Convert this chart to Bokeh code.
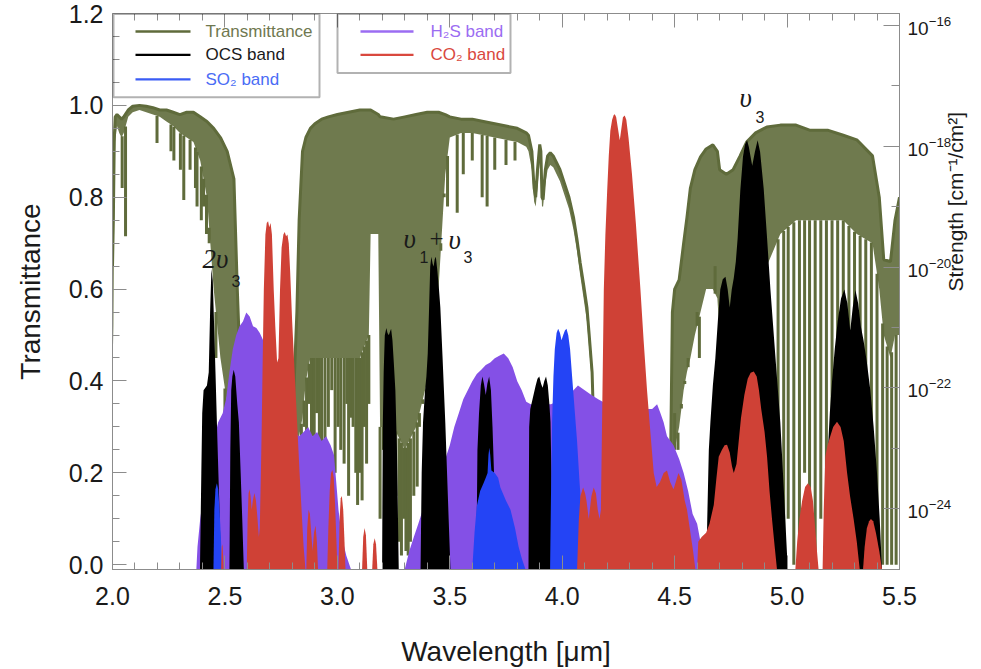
import math
import numpy as np
from bokeh.plotting import figure
from bokeh.models import (Range1d, LinearAxis, LogAxis, LogScale, FixedTicker,
                          PrintfTickFormatter, CustomJSTickFormatter, Label, BoxAnnotation)
from bokeh.embed import file_html
from bokeh.resources import INLINE

# ------------------------------------------------------------------ data
x_ticks = [2.0, 2.5, 3.0, 3.5, 4.0, 4.5, 5.0, 5.5]
x_minor = [round(2.0 + 0.1 * i, 2) for i in range(36)]
y_ticks = [0.0, 0.2, 0.4, 0.6, 0.8, 1.0, 1.2]
y_minor = [round(0.05 * i, 2) for i in range(25)]
s_ticks = [1e-16, 1e-18, 1e-20, 1e-22, 1e-24]
s_minor = [1e-17, 1e-19, 1e-21, 1e-23, 1e-25]

# Transmittance: upper envelope and lower edge of the dense line forest
trans_wl = [2.000, 2.004, 2.008, 2.012, 2.02, 2.03, 2.04, 2.05, 2.07, 2.09, 2.12, 2.15, 2.18,
            2.21, 2.24, 2.27, 2.3, 2.33, 2.36, 2.39, 2.42, 2.45, 2.48, 2.51, 2.54, 2.555, 2.57,
            2.6, 2.8, 2.82, 2.83, 2.845, 2.86, 2.88, 2.9, 2.93, 2.96, 3.0, 3.05, 3.1, 3.14,
            3.148, 3.182, 3.19, 3.25, 3.3, 3.35, 3.4, 3.45, 3.48, 3.5, 3.55, 3.6, 3.65, 3.7,
            3.75, 3.8, 3.84, 3.85, 3.865, 3.875, 3.882, 3.89, 3.9, 3.905, 3.91, 3.915, 3.925,
            3.935, 3.947, 3.96, 3.975, 3.99, 4.01, 4.03, 4.05, 4.065, 4.08, 4.095, 4.11, 4.12,
            4.133, 4.14, 4.15, 4.16, 4.17, 4.47, 4.48, 4.49, 4.5, 4.52, 4.54, 4.555, 4.57, 4.59,
            4.615, 4.64, 4.67, 4.69, 4.7, 4.73, 4.76, 4.79, 4.82, 4.86, 4.91, 4.97, 5.04, 5.1,
            5.18, 5.25, 5.31, 5.38, 5.41, 5.43, 5.46, 5.48, 5.5]
trans_top = [0.65, 0.76, 0.93, 0.975, 0.98, 0.975, 0.97, 0.975, 0.99, 0.998, 1.0, 0.998, 0.995,
             0.99, 0.99, 0.985, 0.98, 0.985, 0.985, 0.975, 0.965, 0.95, 0.93, 0.9, 0.84, 0.6, 0.4,
             0.3, 0.3, 0.55, 0.75, 0.9, 0.93, 0.95, 0.96, 0.97, 0.975, 0.98, 0.985, 0.99, 0.99,
             0.99, 0.98, 0.975, 0.97, 0.975, 0.98, 0.985, 0.985, 0.98, 0.975, 0.97, 0.97, 0.965, 0.96,
             0.955, 0.95, 0.94, 0.935, 0.9, 0.82, 0.8, 0.86, 0.915, 0.9, 0.8, 0.795, 0.86,
             0.89, 0.897, 0.89, 0.875, 0.86, 0.83, 0.8, 0.757, 0.71, 0.657, 0.61, 0.56, 0.5,
             0.418, 0.3, 0.15, 0.03, 0.0, 0.0, 0.15, 0.55, 0.6, 0.62, 0.7, 0.757, 0.82, 0.86,
             0.888, 0.905, 0.914, 0.9, 0.86, 0.85, 0.86, 0.889, 0.92, 0.94, 0.953, 0.957, 0.957, 0.946,
             0.946, 0.935, 0.925, 0.89, 0.8, 0.664, 0.66, 0.75, 0.8]
trans_low = [0.42, 0.52, 0.8, 0.92, 0.955, 0.94, 0.93, 0.94, 0.975, 0.985, 0.99, 0.985, 0.98,
             0.975, 0.965, 0.955, 0.94, 0.93, 0.92, 0.88, 0.8, 0.6, 0.45, 0.35, 0.25, 0.22, 0.2,
             0.15, 0.15, 0.2, 0.28, 0.32, 0.4, 0.45, 0.45, 0.45, 0.45, 0.45, 0.45, 0.45, 0.5,
             0.72, 0.72, 0.3, 0.3, 0.25, 0.3, 0.4, 0.6, 0.85, 0.93, 0.94, 0.94, 0.935, 0.93,
             0.925, 0.92, 0.91, 0.9, 0.86, 0.79, 0.78, 0.82, 0.88, 0.86, 0.78, 0.78, 0.83,
             0.86, 0.87, 0.865, 0.85, 0.835, 0.805, 0.775, 0.73, 0.685, 0.63, 0.58, 0.53, 0.47,
             0.39, 0.27, 0.12, 0.0, 0.0, 0.0, 0.0, 0.2, 0.25, 0.3, 0.38, 0.42, 0.45, 0.5,
             0.55, 0.6, 0.6, 0.58, 0.5, 0.4, 0.4, 0.4, 0.45, 0.55, 0.65, 0.72, 0.75, 0.75,
             0.75, 0.75, 0.72, 0.7, 0.6, 0.5, 0.45, 0.5, 0.5]
# individual deep absorption lines (wavelength, minimum transmittance)
line_wl = [2.043, 2.058, 2.198, 2.26, 2.273, 2.302, 2.317, 2.345, 2.369, 2.376, 2.395, 2.405,
           2.418, 2.43, 2.46, 2.5, 2.52, 2.55, 2.84, 2.852, 2.863, 2.875, 2.885, 2.897, 2.908,
           2.92, 2.93, 2.945, 2.96, 2.975, 2.99, 3.003, 3.015, 3.03, 3.042, 3.05, 3.062, 3.07,
           3.082, 3.09, 3.1, 3.11, 3.12, 3.13, 3.14, 3.19, 3.205, 3.215, 3.23, 3.245, 3.26,
           3.275, 3.285, 3.295, 3.305, 3.315, 3.325, 3.34, 3.355, 3.365, 3.38, 3.4, 3.42, 3.44,
           3.46, 3.475, 3.49, 3.533, 3.56, 3.6, 3.644, 3.666, 3.7, 3.75, 3.79,
           4.485, 4.5, 4.515, 4.53, 4.545, 4.56, 4.6, 4.61, 4.62, 4.64, 4.66, 4.68,
           4.96, 4.985, 5.005, 5.03, 5.055, 5.078, 5.1, 5.125, 5.15, 5.175, 5.2, 5.225, 5.25,
           5.275, 5.3, 5.325, 5.35, 5.375, 5.4, 5.425, 5.445, 5.465, 5.485]
line_min = [0.82, 0.715, 0.918, 0.9, 0.88, 0.86, 0.794, 0.86, 0.82, 0.78, 0.75, 0.78,
            0.72, 0.7, 0.45, 0.3, 0.3, 0.22, 0.25, 0.3, 0.15, 0.35, 0.28, 0.2, 0.33,
            0.18, 0.25, 0.13, 0.3, 0.38, 0.2, 0.3, 0.25, 0.22, 0.35, 0.15, 0.32, 0.3,
            0.2, 0.13, 0.2, 0.14, 0.3, 0.22, 0.35, 0.1, 0.25, 0.2, 0.15, 0.3, 0.15,
            0.05, 0.02, 0.1, 0.03, 0.02, 0.05, 0.15, 0.17, 0.3, 0.35, 0.4, 0.55, 0.6,
            0.7, 0.8, 0.78, 0.766, 0.85, 0.88, 0.8, 0.78, 0.86, 0.87, 0.88,
            0.22, 0.33, 0.25, 0.35, 0.4, 0.45, 0.55, 0.45, 0.56, 0.6, 0.6, 0.65,
            0.05, 0.0, 0.1, 0.0, 0.05, 0.2, 0.0, 0.0, 0.1, 0.0, 0.0, 0.05, 0.15,
            0.0, 0.0, 0.1, 0.0, 0.0, 0.05, 0.0, 0.0, 0.0, 0.0]

# Band line strengths: envelope, log10 of strength [cm^-1/cm^2]
ocs1_wl = [2.389, 2.395, 2.399, 2.405, 2.42, 2.428, 2.434, 2.44, 2.446, 2.452, 2.458, 2.466, 2.474, 2.483]
ocs1_ls = [-25.0, -23.41, -22.42, -22.04, -21.96, -21.74, -20.75, -20.03, -20.22, -20.98, -21.74, -22.80, -23.79, -25.0]
ocs2_wl = [2.52, 2.524, 2.528, 2.533, 2.539, 2.546, 2.555, 2.562, 2.57, 2.577, 2.584]
ocs2_ls = [-25.0, -23.03, -22.04, -21.81, -21.70, -21.81, -22.27, -22.57, -23.41, -24.17, -25.0]
ocs3_wl = [3.199, 3.202, 3.206, 3.211, 3.218, 3.223, 3.229, 3.234, 3.239, 3.245, 3.251, 3.258, 3.265, 3.273]
ocs3_ls = [-25.0, -22.65, -21.74, -21.13, -21.01, -21.09, -21.13, -21.07, -21.02, -21.21, -21.58, -22.04, -23.03, -25.0]
ocs4_wl = [3.37, 3.375, 3.381, 3.39, 3.396, 3.402, 3.408, 3.413, 3.418, 3.424, 3.428, 3.433, 3.438, 3.445,
           3.452, 3.458, 3.468, 3.48, 3.49, 3.495, 3.503]
ocs4_ls = [-25.0, -23.41, -22.57, -22.04, -21.81, -21.43, -20.67, -19.99, -19.83, -19.95, -19.99, -19.87, -19.83, -20.07,
           -20.37, -20.67, -21.51, -22.57, -23.64, -24.17, -25.0]
ocs5_wl = [3.618, 3.623, 3.63, 3.638, 3.645, 3.652, 3.66, 3.667, 3.675, 3.683, 3.69, 3.698, 3.705, 3.712]
ocs5_ls = [-25.0, -23.03, -22.42, -21.96, -21.81, -21.93, -22.12, -21.93, -21.81, -22.04, -22.65, -23.56, -24.32, -25.0]
ocs6_wl = [3.85, 3.853, 3.858, 3.868, 3.882, 3.89, 3.898, 3.906, 3.913, 3.92, 3.928, 3.936, 3.943, 3.948, 3.952, 3.956]
ocs6_ls = [-25.0, -22.65, -22.35, -22.19, -21.96, -21.85, -21.81, -21.93, -22.00, -21.89, -21.81, -21.96, -22.27, -22.57, -23.41, -25.0]
ocs7_wl = [4.641, 4.645, 4.652, 4.659, 4.67, 4.681, 4.692, 4.703, 4.714, 4.726, 4.736, 4.745, 4.754, 4.763,
           4.772, 4.78, 4.792, 4.804, 4.813, 4.822, 4.83, 4.845, 4.857, 4.869, 4.88, 4.896, 4.91, 4.926,
           4.95, 4.97, 4.987, 5.003]
ocs7_ls = [-25.0, -24.17, -23.03, -22.57, -21.96, -21.51, -20.90, -20.37, -20.20, -20.16, -20.37, -20.67, -20.37, -20.18,
           -19.91, -19.53, -18.73, -18.17, -17.97, -17.90, -18.01, -18.32, -18.09, -17.90, -18.09, -18.70, -19.46, -20.37,
           -21.58, -22.57, -23.79, -25.0]
ocs8_wl = [5.165, 5.172, 5.18, 5.19, 5.2, 5.212, 5.225, 5.24, 5.255, 5.268, 5.281, 5.292, 5.304, 5.316, 5.328,
           5.34, 5.355, 5.37, 5.385, 5.4, 5.412, 5.422]
ocs8_ls = [-25.0, -23.79, -23.14, -22.42, -21.89, -21.36, -20.90, -20.52, -20.37, -20.60, -21.05, -20.67, -20.38, -20.60, -20.98,
           -21.21, -21.58, -22.03, -22.65, -23.41, -24.17, -25.0]

h2s1_wl = [2.373, 2.378, 2.39, 2.41, 2.43, 2.45, 2.47, 2.49, 2.505, 2.52, 2.535, 2.55, 2.565, 2.58, 2.595, 2.61,
           2.625, 2.64, 2.655, 2.67, 2.69, 2.71, 2.73, 2.75, 2.77, 2.79, 2.81, 2.83, 2.85, 2.87, 2.89, 2.91, 2.93,
           2.95, 2.97, 2.985, 2.995, 3.005, 3.02, 3.04, 3.06]
h2s1_ls = [-25.0, -24.63, -24.17, -23.64, -23.26, -22.88, -22.57, -22.42, -22.19, -21.74, -21.36, -21.13, -20.98, -20.90,
           -20.75, -20.82, -20.98, -21.01, -21.09, -21.21, -21.43, -21.66, -21.89, -22.12, -22.35, -22.57, -22.73, -22.80,
           -22.73, -22.65, -22.80, -22.73, -22.88, -22.80, -22.95, -23.11, -23.56, -24.02, -24.47, -24.78, -25.0]
h2s2_wl = [3.3, 3.32, 3.34, 3.36, 3.38, 3.4, 3.42, 3.44, 3.46, 3.48, 3.5, 3.52, 3.54, 3.56, 3.58, 3.6, 3.62, 3.64,
           3.66, 3.68, 3.7, 3.72, 3.74, 3.76, 3.78, 3.8, 3.82, 3.84, 3.86, 3.9, 3.95, 4.0, 4.05, 4.07, 4.1, 4.13,
           4.16, 4.2, 4.3, 4.4, 4.422, 4.437, 4.451, 4.466, 4.495, 4.52, 4.54, 4.56, 4.58, 4.6, 4.615, 4.63]
h2s2_ls = [-25.0, -24.70, -24.47, -24.25, -24.02, -23.87, -23.71, -23.56, -23.41, -23.18, -22.95, -22.65, -22.42, -22.19,
           -22.04, -21.89, -21.77, -21.70, -21.62, -21.58, -21.51, -21.47, -21.43, -21.51, -21.66, -21.89, -22.04, -22.23,
           -22.27, -22.27, -22.27, -22.19, -22.04, -21.96, -22.04, -22.12, -22.19, -22.27, -22.35, -22.35, -22.27, -22.42,
           -22.57, -22.80, -22.95, -23.18, -23.41, -23.71, -24.09, -24.25, -24.55, -25.0]

so2_1_wl = [2.449, 2.453, 2.458, 2.464, 2.47, 2.476, 2.482, 2.487]
so2_1_ls = [-25.0, -24.02, -23.68, -23.58, -23.68, -24.02, -24.47, -25.0]
so2_2_wl = [3.6, 3.61, 3.62, 3.635, 3.65, 3.66, 3.668, 3.672, 3.676, 3.68, 3.685, 3.7, 3.715, 3.725, 3.75, 3.77,
            3.79, 3.806, 3.82, 3.836]
so2_2_ls = [-25.0, -24.40, -23.96, -23.71, -23.58, -23.49, -23.41, -23.11, -22.99, -23.11, -23.37, -23.41, -23.49, -23.65,
            -23.87, -24.02, -24.32, -24.63, -24.82, -25.0]
so2_3_wl = [3.946, 3.95, 3.955, 3.961, 3.967, 3.975, 3.982, 3.99, 3.997, 4.004, 4.012, 4.019, 4.027, 4.035, 4.044,
            4.055, 4.066, 4.077, 4.088, 4.097, 4.103]
so2_3_ls = [-25.0, -23.79, -22.57, -21.81, -21.36, -21.09, -21.02, -21.09, -21.21, -21.13, -21.05, -21.02, -21.13, -21.36,
            -21.81, -22.35, -22.88, -23.56, -24.17, -24.63, -25.0]

co2_1_wl = [2.483, 2.486, 2.489, 2.492, 2.494]
co2_1_ls = [-25.0, -24.63, -24.59, -24.78, -25.0]
co2_2_wl = [2.597, 2.601, 2.605, 2.609, 2.614, 2.619, 2.624, 2.631, 2.638, 2.645, 2.651, 2.655, 2.66, 2.664, 2.668,
            2.673, 2.68, 2.686, 2.692, 2.697, 2.703, 2.709, 2.717, 2.724, 2.732, 2.738, 2.745, 2.752, 2.76, 2.766,
            2.772, 2.778, 2.784, 2.79, 2.799, 2.81, 2.821, 2.832, 2.843, 2.85, 2.858]
co2_2_ls = [-25.0, -24.17, -23.75, -23.68, -23.79, -24.02, -23.87, -23.74, -23.87, -24.17, -24.47, -24.32, -23.41, -22.57,
            -21.51, -20.37, -19.46, -19.27, -19.24, -19.34, -19.27, -19.46, -20.37, -20.98, -21.58, -21.51, -20.37,
            -19.68, -19.46, -19.42, -19.49, -19.46, -19.61, -20.07, -20.90, -21.74, -22.57, -23.41, -24.17, -24.63, -25.0]
co2_3_wl = [2.862, 2.866, 2.872, 2.878, 2.885, 2.89, 2.896, 2.903, 2.909, 2.914]
co2_3_ls = [-25.0, -24.32, -24.02, -24.09, -24.47, -24.70, -24.40, -24.28, -24.55, -25.0]
co2_4_wl = [2.955, 2.96, 2.966, 2.972, 2.978, 2.984, 2.99, 2.996, 3.0]
co2_4_ls = [-25.0, -24.32, -23.71, -23.41, -23.36, -23.49, -23.94, -24.55, -25.0]
co2_5_wl = [3.005, 3.01, 3.015, 3.02, 3.026, 3.031, 3.036]
co2_5_ls = [-25.0, -24.17, -23.83, -23.79, -24.02, -24.47, -25.0]
co2_6_wl = [3.11, 3.115, 3.121, 3.127, 3.133]
co2_6_ls = [-25.0, -24.47, -24.32, -24.44, -25.0]
co2_7_wl = [3.155, 3.16, 3.166, 3.172, 3.178]
co2_7_ls = [-25.0, -24.59, -24.49, -24.59, -25.0]
co2_8_wl = [4.066, 4.074, 4.081, 4.093, 4.102, 4.108, 4.118, 4.13, 4.14, 4.15, 4.158, 4.166, 4.172, 4.177, 4.185,
            4.192, 4.2, 4.207, 4.214, 4.222, 4.229, 4.234, 4.24, 4.248, 4.256, 4.263, 4.27, 4.278, 4.285, 4.295,
            4.31, 4.328, 4.348, 4.362, 4.377, 4.392, 4.407, 4.42, 4.435, 4.451, 4.466, 4.48, 4.495, 4.505, 4.517,
            4.53, 4.545, 4.555, 4.57, 4.582, 4.592]
co2_8_ls = [-25.0, -24.17, -23.79, -23.65, -23.75, -23.87, -24.17, -23.79, -23.65, -23.75, -24.02, -24.17, -24.02, -22.65,
            -20.37, -19.46, -18.73, -18.16, -17.74, -17.56, -17.48, -17.47, -17.52, -17.71, -17.90, -17.71, -17.52,
            -17.49, -17.56, -17.86, -18.45, -19.30, -20.38, -21.21, -22.03, -22.73, -23.41, -23.64, -23.56, -23.41,
            -23.37, -23.56, -23.68, -23.56, -23.41, -23.52, -23.87, -24.02, -24.40, -24.70, -25.0]
co2_9_wl = [4.6, 4.605, 4.62, 4.64, 4.655, 4.674, 4.686, 4.696, 4.71, 4.722, 4.733, 4.745, 4.755, 4.763, 4.775,
            4.785, 4.795, 4.81, 4.825, 4.838, 4.852, 4.865, 4.875, 4.885, 4.9, 4.911, 4.922, 4.933, 4.945, 4.955]
co2_9_ls = [-25.0, -24.55, -24.47, -24.40, -24.25, -23.94, -23.49, -23.14, -23.03, -22.95, -22.94, -23.07, -23.30, -23.41,
            -23.26, -22.88, -22.50, -22.12, -21.85, -21.75, -21.73, -21.81, -22.04, -22.35, -22.73, -23.14, -23.71,
            -24.17, -24.63, -25.0]
co2_10_wl = [5.037, 5.045, 5.055, 5.067, 5.08, 5.093, 5.105, 5.115, 5.125, 5.133, 5.14]
co2_10_ls = [-25.0, -24.55, -24.17, -23.87, -23.64, -23.58, -23.64, -23.87, -24.32, -24.70, -25.0]
co2_11_wl = [5.158, 5.163, 5.17, 5.18, 5.192, 5.205, 5.222, 5.238, 5.252, 5.267, 5.28, 5.296, 5.31, 5.323]
co2_11_ls = [-25.0, -24.02, -23.14, -22.95, -22.80, -22.65, -22.56, -22.65, -22.88, -23.41, -23.79, -24.17, -24.55, -25.0]
co2_12_wl = [5.338, 5.345, 5.355, 5.365, 5.373, 5.383, 5.395, 5.41, 5.422]
co2_12_ls = [-25.0, -24.63, -24.32, -24.21, -24.17, -24.21, -24.40, -24.70, -25.0]

h2s_bands = [(h2s1_wl, h2s1_ls), (h2s2_wl, h2s2_ls)]
ocs_bands = [(ocs1_wl, ocs1_ls), (ocs2_wl, ocs2_ls), (ocs3_wl, ocs3_ls), (ocs4_wl, ocs4_ls),
             (ocs5_wl, ocs5_ls), (ocs6_wl, ocs6_ls), (ocs7_wl, ocs7_ls), (ocs8_wl, ocs8_ls)]
so2_bands = [(so2_1_wl, so2_1_ls), (so2_2_wl, so2_2_ls), (so2_3_wl, so2_3_ls)]
co2_bands = [(co2_1_wl, co2_1_ls), (co2_2_wl, co2_2_ls), (co2_3_wl, co2_3_ls), (co2_4_wl, co2_4_ls),
             (co2_5_wl, co2_5_ls), (co2_6_wl, co2_6_ls), (co2_7_wl, co2_7_ls), (co2_8_wl, co2_8_ls),
             (co2_9_wl, co2_9_ls), (co2_10_wl, co2_10_ls), (co2_11_wl, co2_11_ls), (co2_12_wl, co2_12_ls)]

# ------------------------------------------------------------------ style
OLIVE = "#5f6b3b"
PURPLE = "#8450e6"
BLACK = "#000000"
BLUE = "#2444f5"
RED = "#cf4136"
GREY = "#8c8c8c"
FONT = "Liberation Sans"

W, H = 981, 669
FL, FR, FT, FB = 112, 899, 13, 570
X0, X1 = 2.0, 5.5
Y0, Y1 = -0.0105, 1.2
LS0, LS1 = -25.008, -15.80


def px2x(px):
    return X0 + (px - FL) * (X1 - X0) / (FR - FL)


def py2y(py):
    return Y1 - (py - FT) * (Y1 - Y0) / (FB - FT)


p = figure(width=W, height=H, x_range=Range1d(X0, X1), y_range=Range1d(Y0, Y1),
           output_backend="svg", toolbar_location=None,
           min_border_left=FL, min_border_right=W - FR, min_border_top=FT, min_border_bottom=H - FB)
p.extra_y_ranges = {"s": Range1d(10 ** LS0, 10 ** LS1)}
p.extra_y_scales = {"s": LogScale()}
p.grid.visible = False
p.outline_line_color = GREY
p.background_fill_color = "white"
p.border_fill_color = "white"


def style_axis(ax, tin=14, tmin=7):
    ax.axis_line_color = GREY
    ax.major_tick_line_color = GREY
    ax.minor_tick_line_color = GREY
    ax.major_tick_in = tin
    ax.major_tick_out = 0
    ax.minor_tick_in = tmin
    ax.minor_tick_out = 0
    ax.major_label_text_font = FONT
    ax.major_label_text_color = "#1a1a1a"
    ax.axis_label_text_font = FONT
    ax.axis_label_text_font_style = "normal"
    ax.axis_label_text_color = "#1a1a1a"


xa = p.xaxis[0]
xa.ticker = FixedTicker(ticks=x_ticks, minor_ticks=x_minor)
xa.formatter = PrintfTickFormatter(format="%.1f")
style_axis(xa)
xa.major_label_text_font_size = "25px"
xa.major_label_standoff = 17
xa.axis_label = "Wavelength [\u03bcm]"
xa.axis_label_text_font_size = "28px"
xa.axis_label_standoff = 28

ya = p.yaxis[0]
ya.ticker = FixedTicker(ticks=y_ticks, minor_ticks=y_minor)
ya.formatter = PrintfTickFormatter(format="%.1f")
style_axis(ya)
ya.major_label_text_font_size = "25px"
ya.major_label_standoff = 9
ya.axis_label = "Transmittance"
ya.axis_label_text_font_size = "28px"
ya.axis_label_standoff = 20

top = LinearAxis(ticker=FixedTicker(ticks=x_ticks, minor_ticks=x_minor),
                 formatter=CustomJSTickFormatter(code="return ''"))
style_axis(top)
top.major_label_text_font_size = "10px"
top.major_label_standoff = 0
p.add_layout(top, "above")

ra = LogAxis(y_range_name="s", ticker=FixedTicker(ticks=s_ticks, minor_ticks=s_minor))
style_axis(ra, tin=16, tmin=8)
ra.major_label_text_font_size = "19px"
ra.major_label_standoff = 8
ra.axis_label = "Strength [cm\u207b\u00b9/cm\u00b2]"
ra.axis_label_text_font_size = "21px"
ra.axis_label_standoff = 1
ra.axis_label_orientation = math.pi / 2
p.add_layout(ra, "right")

# ------------------------------------------------------------------ glyphs
p.varea(x=trans_wl, y1=trans_low, y2=trans_top, fill_color=OLIVE, fill_alpha=0.9)
p.line(trans_wl, trans_top, line_color=OLIVE, line_width=3)
seg_top = np.interp(line_wl, trans_wl, trans_low)
p.segment(x0=line_wl, y0=seg_top, x1=line_wl, y1=line_min, line_color=OLIVE, line_width=3)

for bands, col in [(h2s_bands, PURPLE), (ocs_bands, BLACK), (so2_bands, BLUE), (co2_bands, RED)]:
    for wl, ls in bands:
        p.varea(x=wl, y1=1e-26, y2=10.0 ** np.array(ls), fill_color=col, y_range_name="s")

# ------------------------------------------------------------------ texts
def lab(px, py, text, size, font=FONT, style="normal", color="#1a1a1a", align="left"):
    p.add_layout(Label(x=px2x(px), y=py2y(py), text=text, text_font=font, text_font_style=style,
                       text_font_size=size, text_color=color, text_baseline="middle", text_align=align))

SER = "Liberation Serif"
lab(202, 259, "2\u03c5", "27px", SER, "italic")
lab(231, 281, "3", "16px")
lab(403, 239, "\u03c5", "27px", SER, "italic")
lab(419, 257, "1", "16px")
lab(429, 238, "+", "25px", SER)
lab(448, 240, "\u03c5", "27px", SER, "italic")
lab(463, 257, "3", "16px")
lab(739, 98, "\u03c5", "27px", SER, "italic")
lab(755, 117, "3", "16px")

# ------------------------------------------------------------------ legend
def box(l, r, t, b, **kw):
    p.add_layout(BoxAnnotation(left=px2x(l), right=px2x(r), top=py2y(t), bottom=py2y(b), **kw))

box(113, 319, 13.5, 97, fill_alpha=0, line_color="black", line_width=2)
box(337, 510, 13.5, 72.5, fill_alpha=0, line_color="black", line_width=2)
legend_items = [(135, 190, 205, 31, OLIVE, "#6f7850", "Transmittance"),
                (135, 190, 205, 54.5, BLACK, "#1a1a1a", "OCS band"),
                (135, 190, 205, 79, "#3a5cf5", "#4a6cf5", "SO\u2082 band"),
                (360, 413, 430, 31, "#9b6cf2", "#9b6cf2", "H\u2082S band"),
                (360, 413, 430, 54.5, "#d9483e", "#d9483e", "CO\u2082 band")]
for x0, x1, tx, yy, lc, tc, txt in legend_items:
    box(x0, x1, yy - 1.2, yy + 1.2, fill_color=lc, fill_alpha=1, line_alpha=0)
    lab(tx, yy, txt, "17px", color=tc)

open("out.html", "w").write(file_html(p, INLINE))
